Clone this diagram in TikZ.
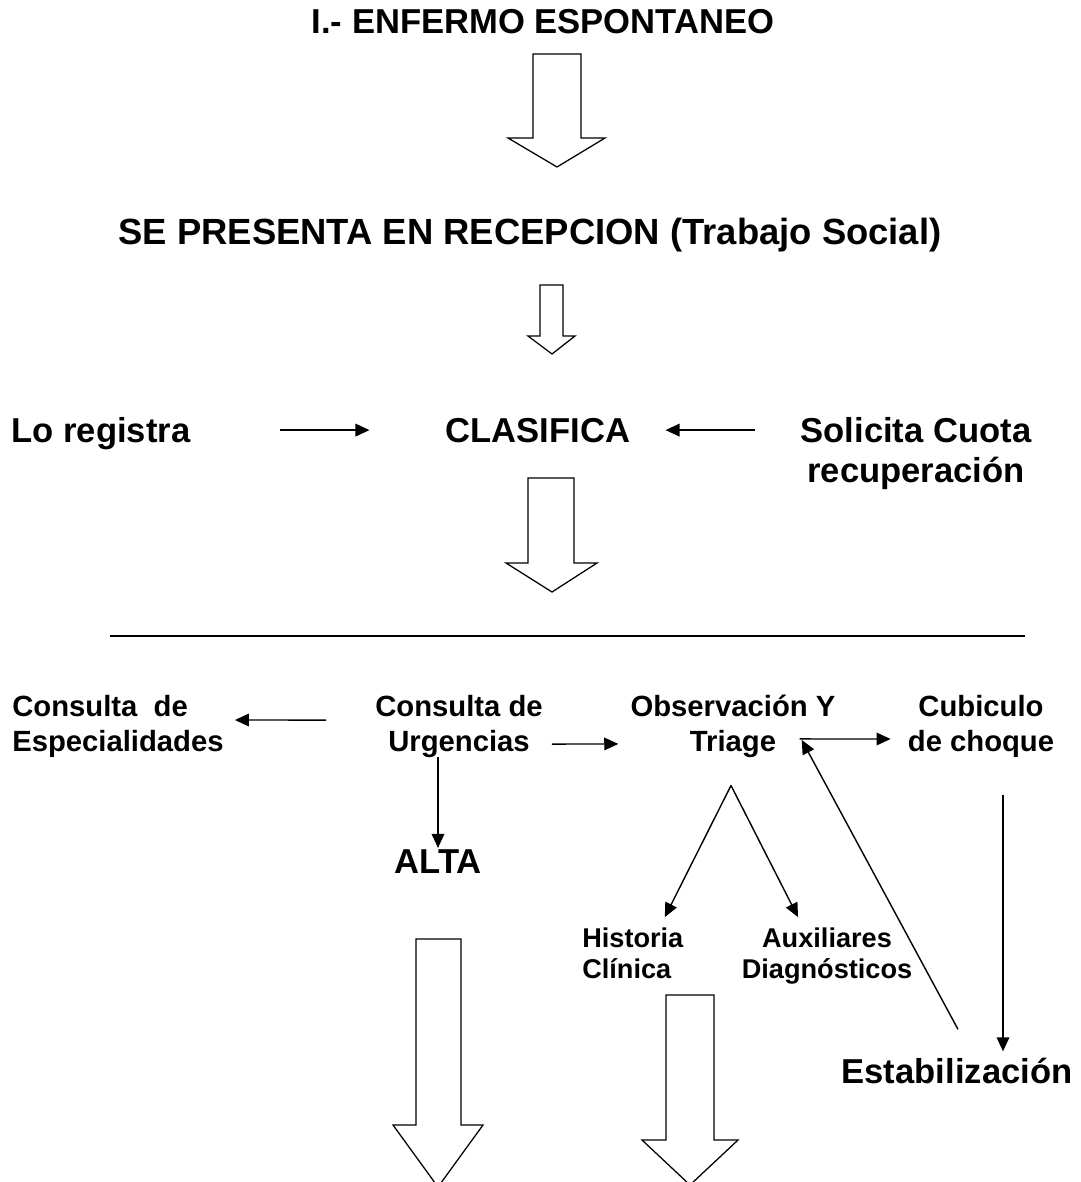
\documentclass[tikz,border=0pt]{standalone}
\usepackage{fontspec}
\setmainfont{Liberation Sans}
\usetikzlibrary{arrows.meta,calc}

\tikzset{
  bigtxt/.style={font=\fontsize{24.6}{28.3}\selectfont\bfseries, inner sep=0pt, align=center},
  midtxt/.style={font=\fontsize{20.8}{24.8}\selectfont\bfseries, inner sep=0pt, align=center},
  smalltxt/.style={font=\fontsize{19.3}{22}\selectfont\bfseries, inner sep=0pt, align=center},
  thinarrow/.style={-{Triangle[length=10pt,width=9pt]}, line width=1pt},
  fatarrow/.style={draw=black, line width=0.9pt, fill=white}
}

\begin{document}
\begin{tikzpicture}[x=0.025cm, y=-0.025cm]
    \useasboundingbox (0,0) rectangle (1080,1182);

    % draw text nodes (base = baseline of the last line)
    \node[bigtxt, anchor=base] (enfermo) at (543,34) {I.- ENFERMO ESPONTANEO};
    \node[bigtxt, font=\fontsize{25.9}{29.8}\selectfont\bfseries, anchor=base] (recepcion) at (530,244) {SE PRESENTA EN RECEPCION (Trabajo Social)};
    \node[bigtxt, anchor=base] (registra) at (101,442) {Lo registra};
    \node[bigtxt, anchor=base] (clasifica) at (538,442) {CLASIFICA};
    \node[bigtxt, anchor=base] (cuota) at (916,482) {Solicita Cuota\\recuperación};

    \node[midtxt, anchor=base west, align=left] (especial) at (12,751) {Consulta\ \ de\\Especialidades};
    \node[midtxt, anchor=base] (urgencias) at (459,751) {Consulta de\\Urgencias};
    \node[midtxt, anchor=base] (observa) at (733,751) {Observación Y\\Triage};
    \node[midtxt, anchor=base] (choque) at (981,751) {Cubiculo\\de choque};
    \node[bigtxt, anchor=base] (alta) at (438,873) {ALTA};
    \node[smalltxt, anchor=base west, align=left] (historia) at (582,978) {Historia\\Clínica};
    \node[smalltxt, anchor=base] (auxiliar) at (827,978) {Auxiliares\\Diagnósticos};
    \node[bigtxt, anchor=base] (estabil) at (957,1083) {Estabilización};

    % draw block arrows
    \draw[fatarrow] (533,54) -- (581,54) -- (581,138) -- (605,138) -- (557,167) -- (508,138) -- (533,138) -- cycle;
    \draw[fatarrow] (540,285) -- (563,285) -- (563,336) -- (575,336) -- (552,354) -- (528,336) -- (540,336) -- cycle;
    \draw[fatarrow] (528,478) -- (574,478) -- (574,563) -- (597,563) -- (552,592) -- (506,563) -- (528,563) -- cycle;
    \draw[fatarrow] (416,939) -- (461,939) -- (461,1125) -- (483,1125) -- (438,1187) -- (393,1125) -- (416,1125) -- cycle;
    \draw[fatarrow] (666,995) -- (714,995) -- (714,1140) -- (738,1140) -- (690,1185) -- (642,1140) -- (666,1140) -- cycle;

    % draw horizontal line
    \draw[line width=1.6pt] (110,636) -- (1025,636);

    % draw thin arrows
    \draw[thinarrow] ($(registra.east |- clasifica.west)+(89,0)$) -- ($(clasifica.west)+(-76,0)$);
    \draw[thinarrow] ($(cuota.west |- clasifica.east)+(-45,0)$) -- ($(clasifica.east)+(35,0)$);
    \draw[thinarrow] ($(urgencias.west)+(-49,-6)$) -- ($(especial.east)+(11,-6)$);
    \draw[thinarrow] ($(urgencias.east)+(9,18)$) -- ($(observa.west)+(-12,18)$);
    \draw[thinarrow] ($(observa.east)+(-36,13)$) -- ($(choque.west)+(-17,13)$);
    \draw[thinarrow] (alta.north |- urgencias.south) -- ($(alta.north)+(0,-1)$);

    \coordinate (fork) at ($(observa.south)+(-2,28)$);
    \draw[thinarrow] (fork) -- ($(historia.north)+(32,-10)$);
    \draw[thinarrow] (fork) -- ($(auxiliar.north)+(-29,-10)$);

    \coordinate (choqueout) at ($(choque.south)+(22,38)$);
    \draw[thinarrow] (choqueout) -- ($(choqueout |- estabil.north)+(0,-6)$);
    \draw[thinarrow] ($(estabil.north)+(1,-28)$) -- ($(observa.east)+(-34,14)$);
\end{tikzpicture}
\end{document}
